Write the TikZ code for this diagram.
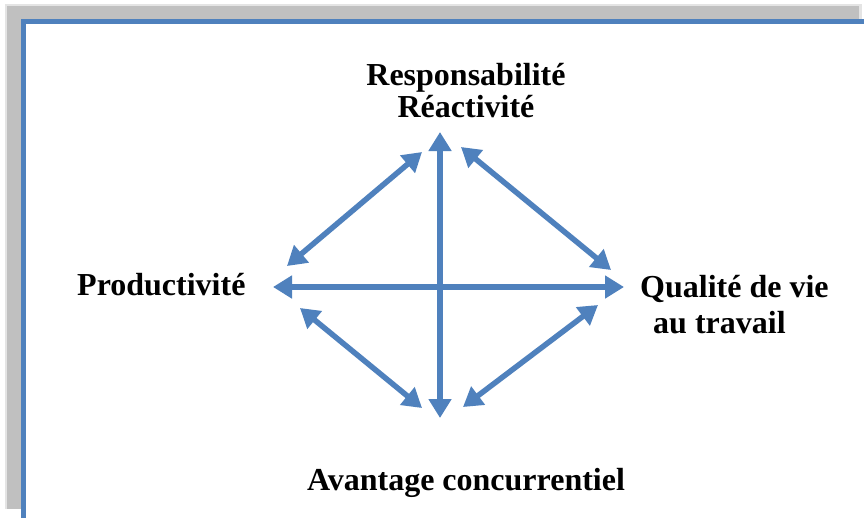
\documentclass[tikz,border=0pt]{standalone}
\usepackage{fontspec}
\setmainfont{Liberation Serif}
\usetikzlibrary{arrows.meta}
\definecolor{axisblue}{HTML}{4F81BD}
\definecolor{shadowgray}{HTML}{C0C0C0}
\definecolor{shadowedge}{HTML}{E4E4E4}
\tikzset{
  label/.style={inner sep=0pt, font=\fontsize{32}{38}\selectfont\bfseries},
  link/.style={draw=axisblue, line width=5.5pt,
    {Triangle[length=19pt,width=22pt]}-{Triangle[length=19pt,width=22pt]}},
}
\begin{document}
\begin{tikzpicture}[x=1pt,y=-1pt]
  \useasboundingbox (0,0) rectangle (864,517);
  \clip (0,0) rectangle (864,517);
  % shadowed frame
  \fill[shadowedge] (5,4) rectangle (862,509);
  \fill[shadowgray] (7,6) rectangle (859,509);
  \filldraw[fill=white, draw=axisblue, line width=4.5pt] (23.3,21.7) rectangle (880,540);

  % labels
  \node[label, anchor=base] (resp) at (466,85) {Responsabilité};
  \node[label, anchor=base] (reac) at (466,117) {Réactivité};
  \node[label, anchor=base west] (prod) at (77,295) {Productivité};
  \node[label, anchor=base west] (qual) at (640,297) {Qualité de vie};
  \node[label, anchor=base west] (trav) at (653,333) {au travail};
  \node[label, anchor=base] (avan) at (466,490) {Avantage concurrentiel};

  % arrow end points
  \coordinate (vtop) at (440,132);
  \coordinate (vbot) at (440,418);
  \coordinate (hleft) at (273,287);
  \coordinate (hright) at (624,287);
  \coordinate (ula) at (287,266);
  \coordinate (ulb) at (422,152);
  \coordinate (ura) at (461,147);
  \coordinate (urb) at (611,270);
  \coordinate (lla) at (300,308);
  \coordinate (llb) at (422,408);
  \coordinate (lra) at (463,407);
  \coordinate (lrb) at (598,305);

  % arrows
  \draw[link] (vtop) -- (vbot);
  \draw[link] (hleft) -- (hright);
  \draw[link] (ula) -- (ulb);
  \draw[link] (ura) -- (urb);
  \draw[link] (lla) -- (llb);
  \draw[link] (lra) -- (lrb);
\end{tikzpicture}
\end{document}
